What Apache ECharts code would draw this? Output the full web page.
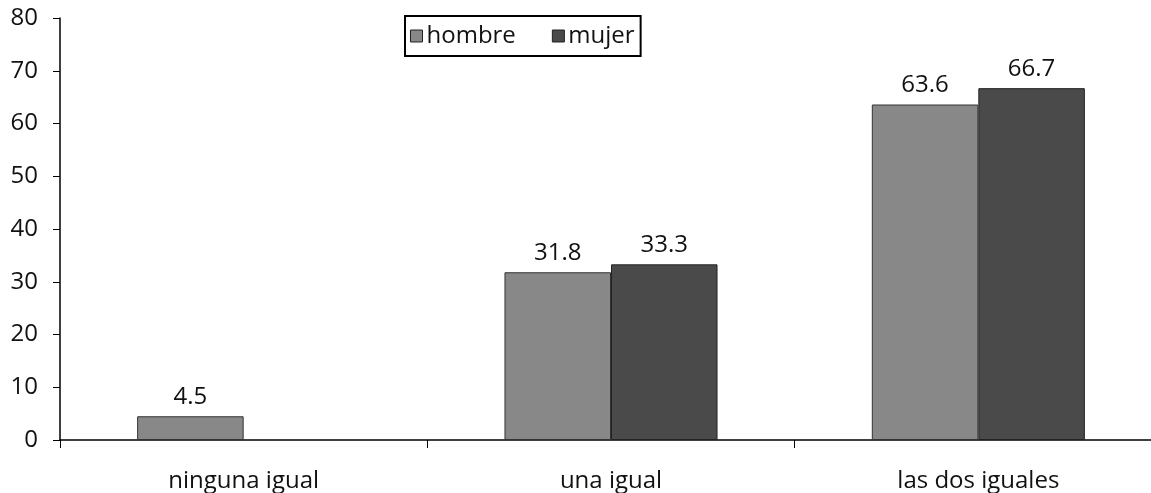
<!DOCTYPE html>
<html>
<head>
<meta charset="utf-8">
<script src="https://cdn.jsdelivr.net/npm/echarts@6/dist/echarts.min.js"></script>
<style>
  html, body { margin: 0; padding: 0; background: #fff; }
  #chart { width: 1151px; height: 493px; }
</style>
</head>
<body>
<div id="chart"></div>
<script>
const categories = ['ninguna igual', 'una igual', 'las dos iguales']
const hombre = [4.5, 31.8, 63.6]
const mujer = [null, 33.3, 66.7]
const font = '"Open Sans", "Noto Sans", sans-serif'

const chart = echarts.init(document.getElementById('chart'))
const label = {
  show: true,
  position: 'top',
  distance: 7,
  color: '#111',
  fontSize: 24,
  fontFamily: font
}
chart.setOption({
  animation: false,
  textStyle: { fontFamily: font },
  legend: {
    top: 16,
    left: 405,
    icon: 'rect',
    itemWidth: 12,
    itemHeight: 12,
    itemGap: 36,
    padding: [8, 6, 8, 5],
    borderColor: '#000',
    borderWidth: 2,
    itemStyle: { borderColor: '#222', borderWidth: 1 },
    textStyle: { fontSize: 24, color: '#111', padding: [0, 0, 0, -1] },
    data: ['hombre', 'mujer']
  },
  grid: { left: 60, top: 18, bottom: 53, width: 1102, outerBoundsMode: 'none' },
  xAxis: {
    type: 'category',
    data: categories,
    axisLine: { lineStyle: { color: '#000', width: 1.5 } },
    axisTick: { show: true, length: 8, lineStyle: { color: '#000' } },
    axisLabel: { color: '#111', fontSize: 24, margin: 29 }
  },
  yAxis: {
    type: 'value',
    min: 0,
    max: 80,
    interval: 10,
    axisLine: { show: true, lineStyle: { color: '#000', width: 1.5 } },
    axisTick: { show: true, length: 7, lineStyle: { color: '#000' } },
    splitLine: { show: false },
    axisLabel: { color: '#111', fontSize: 24, margin: 22 }
  },
  series: [
    {
      name: 'hombre',
      type: 'bar',
      data: hombre,
      barGap: '0%',
      barCategoryGap: '42%',
      itemStyle: { color: '#888888', borderColor: '#333', borderWidth: 1 },
      label
    },
    {
      name: 'mujer',
      type: 'bar',
      data: mujer,
      itemStyle: { color: '#4a4a4a', borderColor: '#222', borderWidth: 1 },
      label
    }
  ]
})
</script>
</body>
</html>
